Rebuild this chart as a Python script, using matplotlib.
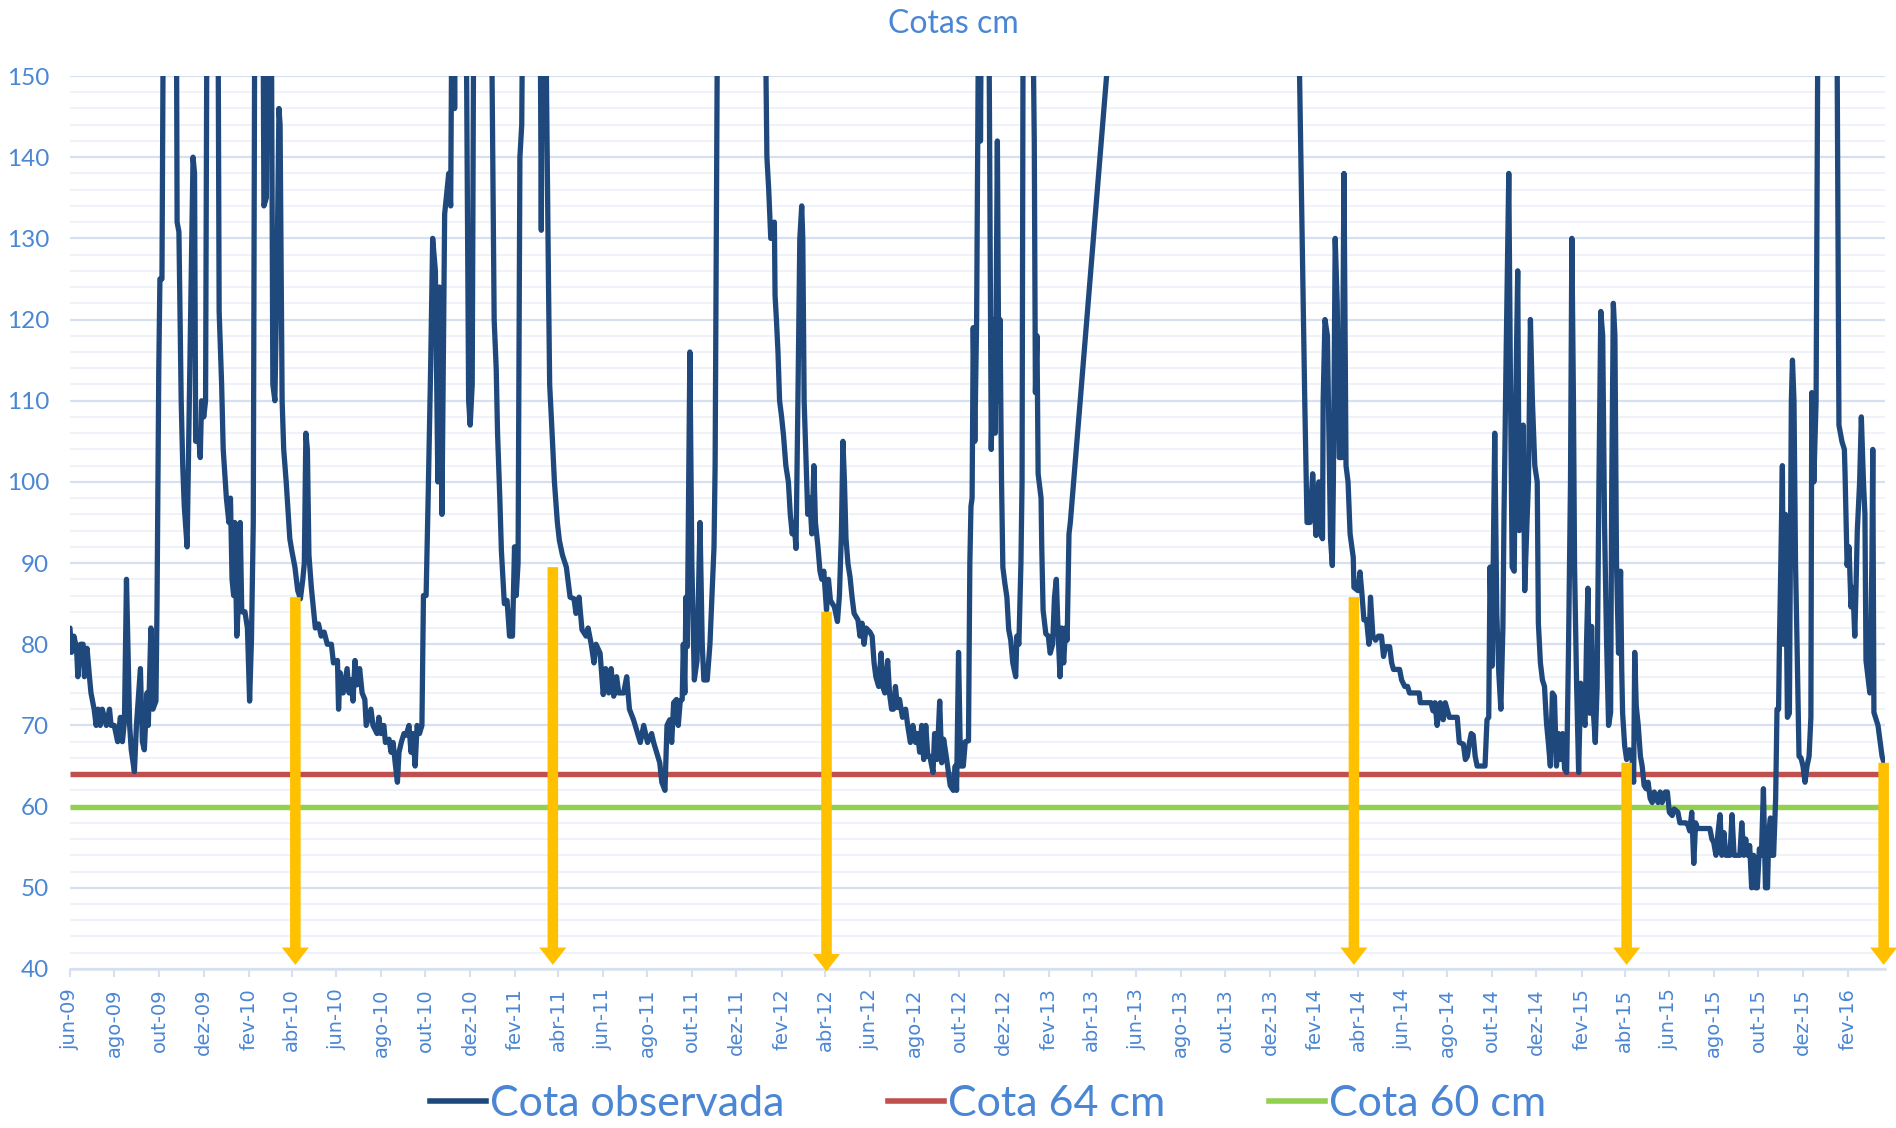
import numpy as np
import pandas as pd
import matplotlib
matplotlib.use("Agg")
import matplotlib.pyplot as plt
from matplotlib.patches import FancyArrowPatch, ArrowStyle
from matplotlib.lines import Line2D

# ---------------- data ----------------
# time axis: months elapsed since 1 June 2009 (jun-09)
t_obs = [0.00, 0.07, 0.18, 0.30, 0.36, 0.48, 0.60, 0.66, 0.78, 0.89, 0.96, 1.10, 1.19, 1.28, 1.37, 1.46, 1.64, 1.78, 1.85, 1.99,
         2.14, 2.26, 2.35, 2.44, 2.53, 2.67, 2.74, 2.88, 2.97, 3.15, 3.24, 3.33, 3.45, 3.51, 3.63, 3.72, 3.86, 3.91, 3.99, 4.04,
         4.13, 4.22, 4.75, 4.80, 4.88, 4.98, 5.05, 5.12, 5.20, 5.25, 5.52, 5.59, 5.64, 5.77, 5.85, 5.91, 6.01, 6.09, 6.17, 6.62,
         6.69, 6.80, 6.87, 6.94, 7.01, 7.12, 7.19, 7.26, 7.33, 7.38, 7.47, 7.54, 7.62, 7.69, 7.83, 7.94, 8.04, 8.13, 8.22, 8.31,
         8.67, 8.74, 8.86, 8.95, 9.07, 9.16, 9.25, 9.34, 9.43, 9.48, 9.57, 9.64, 9.75, 9.82, 9.91, 10.00, 10.14, 10.27, 10.39, 10.50,
         10.57, 10.64, 10.71, 10.78, 10.89, 11.07, 11.21, 11.33, 11.46, 11.60, 11.78, 11.87, 12.05, 12.10, 12.17, 12.31, 12.49, 12.58, 12.67, 12.76,
         12.85, 12.94, 13.06, 13.17, 13.29, 13.35, 13.56, 13.65, 13.83, 13.91, 14.00, 14.13, 14.20, 14.36, 14.45, 14.54, 14.63, 14.73, 14.80, 14.91,
         15.02, 15.12, 15.25, 15.34, 15.43, 15.53, 15.62, 15.73, 15.84, 15.91, 16.03, 16.12, 16.23, 16.32, 16.44, 16.55, 16.62, 16.73, 16.85, 17.03,
         17.12, 17.21, 17.30, 17.38, 17.79, 17.94, 18.01, 18.10, 18.19, 18.90, 19.07, 19.16, 19.22, 19.32, 19.39, 19.52, 19.64, 19.75, 19.88, 19.97,
         20.05, 20.14, 20.23, 20.32, 20.41, 21.17, 21.25, 21.33, 21.42, 21.57, 21.62, 21.71, 21.83, 21.96, 22.05, 22.19, 22.37, 22.54, 22.72, 22.81,
         22.95, 23.08, 23.26, 23.35, 23.49, 23.61, 23.70, 23.88, 24.02, 24.13, 24.27, 24.38, 24.50, 24.63, 24.73, 24.95, 25.09, 25.21, 25.39, 25.57,
         25.69, 25.84, 26.01, 26.19, 26.28, 26.41, 26.55, 26.64, 26.78, 26.87, 26.99, 27.08, 27.17, 27.30, 27.38, 27.47, 27.56, 27.61, 27.68, 27.73,
         27.79, 27.91, 28.00, 28.11, 28.23, 28.36, 28.46, 28.53, 28.68, 28.80, 28.89, 28.98, 29.03, 29.17, 31.20, 31.25, 31.35, 31.43, 31.52, 31.63,
         31.68, 31.71, 31.77, 31.84, 31.91, 32.00, 32.09, 32.20, 32.32, 32.41, 32.50, 32.59, 32.68, 32.77, 32.86, 32.95, 33.00, 33.06, 33.13, 33.22,
         33.31, 33.40, 33.49, 33.56, 33.67, 33.76, 33.84, 33.93, 34.05, 34.14, 34.23, 34.41, 34.55, 34.64, 34.73, 34.80, 34.87, 34.94, 35.03, 35.12,
         35.21, 35.30, 35.47, 35.56, 35.65, 35.74, 35.83, 36.00, 36.10, 36.19, 36.27, 36.40, 36.51, 36.58, 36.68, 36.81, 36.90, 36.99, 37.07, 37.16,
         37.25, 37.34, 37.47, 37.61, 37.70, 37.82, 37.93, 38.05, 38.14, 38.23, 38.32, 38.41, 38.50, 38.59, 38.68, 38.82, 38.89, 39.00, 39.12, 39.21,
         39.30, 39.39, 39.48, 39.60, 39.74, 39.83, 39.89, 39.98, 40.07, 40.19, 40.28, 40.42, 40.48, 40.53, 40.58, 40.63, 40.70, 40.78, 40.83, 40.90,
         40.95, 41.02, 41.30, 41.44, 41.55, 41.62, 41.72, 41.79, 41.84, 41.91, 41.97, 42.06, 42.15, 42.23, 42.32, 42.41, 42.54, 42.59, 42.68, 42.77,
         42.82, 42.88, 43.23, 43.36, 43.41, 43.48, 43.53, 43.66, 43.69, 43.75, 43.87, 43.98, 44.07, 44.19, 44.28, 44.37, 44.46, 44.55, 44.64, 44.73,
         44.82, 44.90, 44.99, 45.05, 47.50, 55.15, 55.54, 55.64, 55.77, 55.89, 55.96, 56.04, 56.18, 56.25, 56.36, 56.39, 56.48, 56.60, 56.75, 56.84,
         56.89, 56.98, 57.07, 57.16, 57.28, 57.37, 57.46, 57.55, 57.64, 57.78, 57.81, 57.99, 58.08, 58.17, 58.26, 58.38, 58.49, 58.56, 58.67, 58.79,
         58.92, 59.06, 59.15, 59.24, 59.42, 59.51, 59.59, 59.86, 59.95, 60.09, 60.22, 60.31, 60.75, 60.80, 61.28, 61.37, 61.46, 61.55, 61.69, 61.82,
         61.91, 62.09, 62.44, 62.53, 62.71, 62.80, 62.89, 62.98, 63.06, 63.15, 63.24, 63.33, 63.69, 63.78, 63.86, 63.92, 64.01, 64.13, 64.22, 64.31,
         64.40, 64.49, 64.54, 64.63, 64.75, 64.83, 64.90, 64.99, 65.06, 65.15, 65.22, 65.33, 65.40, 65.47, 65.56, 65.64, 65.73, 65.82, 65.93, 66.04,
         66.09, 66.18, 66.27, 66.36, 66.45, 66.53, 66.62, 66.71, 66.80, 66.89, 66.98, 67.07, 67.16, 67.25, 67.34, 67.42, 67.51, 67.57, 67.64, 67.69,
         67.78, 67.87, 67.96, 68.05, 68.17, 68.24, 68.31, 68.40, 68.49, 68.58, 68.67, 68.76, 68.85, 68.94, 69.03, 69.11, 69.20, 69.29, 69.38, 69.43,
         69.50, 69.57, 69.64, 69.73, 69.82, 69.87, 69.91, 70.00, 70.09, 70.22, 70.33, 70.41, 70.46, 70.53, 70.62, 70.72, 70.80, 70.89, 70.98, 71.07,
         71.16, 71.25, 71.34, 71.43, 71.51, 71.60, 71.69, 71.83, 71.92, 72.01, 72.14, 72.23, 72.40, 72.49, 72.76, 72.85, 72.94, 73.03, 73.12, 73.20,
         73.29, 73.83, 73.92, 74.00, 74.10, 74.19, 74.28, 74.36, 74.45, 74.54, 74.72, 74.81, 74.90, 75.16, 75.25, 75.34, 75.43, 75.52, 75.61, 75.70,
         75.79, 75.88, 75.96, 76.05, 76.14, 76.23, 76.32, 76.41, 76.47, 76.54, 76.59, 76.68, 76.77, 76.83, 76.90, 76.94, 77.00, 77.07, 77.12, 77.21,
         77.30, 77.39, 77.48, 77.53, 77.60, 77.67, 77.74, 77.83, 77.92, 78.01, 78.10, 78.19, 78.28, 78.36, 78.40, 78.49, 78.59, 78.70, 79.48, 79.60,
         79.73, 79.84, 79.87, 79.96, 80.05, 80.14, 80.23, 80.32, 80.37, 80.44, 80.55, 80.63, 80.73, 80.80, 80.85, 80.94, 81.03, 81.12, 81.16, 81.21,
         81.30, 81.39, 81.47, 81.57, 81.66]

cota_obs = [82, 79, 81, 79.5, 76, 80, 80, 76, 79.5, 76, 74, 72, 70, 72, 70, 72, 70, 72, 70, 70,
            68, 71, 68, 70.5, 88, 70, 67, 64.3, 70, 77, 68, 67, 74, 70, 82, 72, 73, 85, 114, 125,
            125, 175, 175, 132, 130.8, 110, 102, 97, 94, 92, 140, 138, 105, 106, 103, 110, 108, 110, 175, 175,
            121, 112, 104, 101, 98, 95, 98, 88, 86, 95, 81, 85, 95, 84, 84, 82, 73, 80.5, 95, 175,
            175, 134, 135, 175, 175, 112, 110, 125, 146, 144, 110, 104, 100, 97, 93, 91.5, 89.5, 86.6, 85.6, 88,
            90, 106, 104, 91, 87, 82, 82.5, 81, 81.5, 80, 80, 77.7, 78, 72, 76.5, 74, 77, 74, 75.6, 73,
            78, 75, 77, 74, 73.2, 70, 72, 70, 69, 71, 69, 70, 67.9, 68.3, 66.7, 67.9, 65.4, 63, 66.7, 68,
            69, 68.8, 70, 66.7, 69, 65, 70, 69, 70, 86, 86, 98, 114, 130, 126, 100, 124, 96, 133, 138,
            134, 175, 146, 175, 175, 110, 107, 112, 175, 175, 120, 114, 106, 98, 91.5, 85, 85.4, 81, 81, 92,
            86, 90, 140, 144, 175, 175, 131, 175, 165, 124, 112, 107, 100, 95, 92.8, 91, 89.5, 85.8, 85.6, 83.8,
            85.8, 81.8, 81, 82, 80, 77.7, 80, 78.9, 73.8, 77, 74, 77, 73.6, 76, 74, 74, 76, 72, 70.7, 69,
            67.9, 70, 67.9, 69, 67.9, 66.7, 65.4, 63, 62, 70, 70.7, 67.9, 72.8, 73.2, 70, 73, 73.2, 80, 74, 85.8,
            79.7, 116, 90, 75.6, 78, 95, 80, 75.6, 75.6, 80, 86, 92, 102, 175, 175, 165, 140, 136, 130, 130,
            132, 123, 120, 116, 110, 108, 105.7, 102, 100, 96, 93.6, 95, 91.8, 110, 130, 134, 130, 110, 104, 96,
            98, 93.6, 102, 95, 92, 89, 88, 89, 84.2, 88, 85.4, 84.6, 82.8, 86, 93.6, 105, 100, 93, 89.9, 88.3,
            85.8, 83.8, 83, 81, 82.6, 80, 82, 81.5, 81, 77.7, 76, 74.8, 78.9, 74.8, 74, 78, 73.8, 72, 72, 74.8,
            72.2, 73.2, 71, 72, 70, 67.9, 70, 67.9, 69, 66.7, 70, 65.8, 70, 66.2, 66.2, 64.2, 69, 65.8, 73, 65.4,
            68.3, 66.7, 65, 62.6, 62, 65, 62, 79, 65, 65, 68, 68.1, 90, 97, 98, 119, 105, 120, 142, 175,
            142, 175, 175, 104, 120, 106, 142, 110, 120, 100, 89.5, 87.5, 85.8, 81.8, 80.5, 77.7, 76, 81, 80, 90,
            100, 175, 175, 142, 111, 118, 101, 98, 92, 84.2, 81.3, 81, 78.9, 80, 85.8, 88, 81.3, 76, 82, 77.7,
            82, 80.5, 93.6, 95, 178, 178, 110, 95, 95, 101, 97.5, 93.4, 100, 93.6, 93, 110, 120, 118, 93, 89.7,
            100, 130, 122, 103, 103, 138, 102, 100, 93.6, 90.7, 87, 86.6, 88.9, 86.2, 83, 83, 80, 85.8, 81, 80.5,
            81, 81, 78.5, 79.7, 79.7, 77.7, 76.9, 76.9, 75.6, 74.8, 74.8, 74, 74, 72.8, 72.8, 71.8, 72.8, 70, 72.8, 70.7,
            72.8, 71, 71, 67.9, 67.7, 65.8, 66.2, 67.9, 69, 68.8, 66.2, 65, 65, 70.7, 71, 89.5, 77.3, 106, 83.8, 76.4,
            72, 82, 96, 115, 138, 110, 89.5, 89, 110, 126, 94, 97, 107, 86.6, 94, 100, 120, 110, 102, 100,
            82.6, 77.7, 75.6, 74.8, 70.3, 67.9, 65, 74, 73.6, 65, 69, 65.8, 69, 64.6, 64.2, 78.9, 100, 130, 110, 89.5,
            75, 64.2, 75.2, 71.6, 70, 80, 86.9, 71.5, 82.2, 71.5, 67.9, 74.8, 100, 121, 118, 95, 80.5, 70, 71.6, 100,
            122, 118, 90, 78.9, 89, 77, 71.5, 67.5, 65.8, 67, 66.2, 63, 79, 72.4, 70, 66.2, 65, 62.6, 62.2, 63,
            61, 60.5, 61.8, 61, 60.5, 61.8, 60.5, 61.8, 61.8, 59.3, 58.9, 59.7, 59.3, 58, 58, 57.8, 57, 59.3, 53, 58,
            57.3, 57.3, 56, 55.6, 54, 56.8, 59, 54, 56.8, 54, 54, 59, 54, 54, 58, 54, 56, 54, 55.2, 50,
            54, 50, 50, 54.8, 54, 62.2, 50, 50, 57, 58.6, 54, 54, 61, 72, 72, 80.5, 90, 102, 80, 96,
            71, 71.5, 110, 115, 110, 90, 80, 66.2, 66, 65, 63, 65, 66.2, 71, 111, 100, 110, 175, 175, 107,
            105, 104, 101, 89.7, 92, 84.6, 87, 81, 86, 94, 100, 108, 100, 96, 78, 76, 74, 90, 104, 71.6,
            70.8, 70, 68.3, 66.2, 65.4]

t_limits = [0.0, 81.70]          # axis span, months since jun-09
ref_64 = [64, 64]                 # "Cota 64 cm"
ref_60 = [60, 60]                 # "Cota 60 cm"

arrow_t = [10.16, 21.76, 34.05, 57.81, 70.09, 81.64]
arrow_top = [85.8, 89.5, 84.0, 85.8, 65.4, 65.4]
arrow_tip = [40.5, 40.5, 39.7, 40.5, 40.5, 40.5]

month_pt = ['jan', 'fev', 'mar', 'abr', 'mai', 'jun', 'jul', 'ago', 'set', 'out', 'nov', 'dez']
series_labels = ['Cota observada', 'Cota 64 cm', 'Cota 60 cm']
title_text = 'Cotas cm'

# ---------------- helpers ----------------
BASE = pd.Timestamp('2009-06-01')


def m2d(m):
    whole = int(np.floor(m))
    frac = m - whole
    start = BASE + pd.DateOffset(months=whole)
    nxt = BASE + pd.DateOffset(months=whole + 1)
    return start + (nxt - start) * frac


dates_obs = [m2d(m) for m in t_obs]
x_lim = [m2d(m) for m in t_limits]

# ---------------- style ----------------
BLUE_TXT = '#4A86D4'
C_OBS = '#1F497D'
C_64 = '#C0504D'
C_60 = '#92D050'
C_ARROW = '#FFC000'
GRID_MAJ = '#D6E0F0'
GRID_MIN = '#EEF2F9'

fig = plt.figure(figsize=(18.96, 11.28), dpi=100)
ax = fig.add_axes([0.0369, 0.1410, 0.9573, 0.7916])

ax.plot(x_lim, ref_64, color=C_64, lw=3.9, zorder=3, solid_capstyle='butt')
ax.plot(x_lim, ref_60, color=C_60, lw=3.9, zorder=3, solid_capstyle='butt')
ax.plot(dates_obs, cota_obs, color=C_OBS, lw=3.8, zorder=4,
        solid_joinstyle='round', solid_capstyle='round')

ax.set_xlim(x_lim)
ax.set_ylim(40, 150)

# y grid
ax.set_yticks(np.arange(40, 151, 10))
ax.set_yticks(np.arange(40, 151, 2), minor=True)
ax.grid(which='minor', axis='y', color=GRID_MIN, lw=1.3, zorder=0)
ax.grid(which='major', axis='y', color=GRID_MAJ, lw=1.6, zorder=0)
ax.set_axisbelow(True)
ax.tick_params(axis='y', which='both', length=0, pad=15, labelsize=17.5,
               labelcolor=BLUE_TXT)
for lab in ax.get_yticklabels():
    lab.set_family('Lato')

# x ticks every two months
tick_dates = []
tick_labels = []
for k in range(0, 81, 2):
    d = BASE + pd.DateOffset(months=k)
    tick_dates.append(d)
    tick_labels.append(f"{month_pt[d.month - 1]}-{d.year % 100:02d}")
ax.set_xticks(tick_dates)
ax.set_xticklabels(tick_labels, rotation=90, fontsize=14, color=BLUE_TXT,
                   family='DejaVu Sans')
ax.tick_params(axis='x', which='major', length=6, width=1.5, color=GRID_MAJ, pad=8)
ax.tick_params(axis='x', which='minor', length=0)

for s in ['top', 'right', 'left']:
    ax.spines[s].set_visible(False)
ax.spines['bottom'].set_color(GRID_MAJ)
ax.spines['bottom'].set_linewidth(1.8)

# arrows
for t, top, tip in zip(arrow_t, arrow_top, arrow_tip):
    d = m2d(t)
    arr = FancyArrowPatch((d, top), (d, tip),
                          arrowstyle=ArrowStyle.Simple(head_length=12.5, head_width=19.5, tail_width=7.6),
                          mutation_scale=1, color=C_ARROW, shrinkA=0, shrinkB=0,
                          zorder=6, clip_on=False, lw=0)
    ax.add_patch(arr)

# title
fig.text(0.503, 0.979, title_text, ha='center', va='center', fontsize=23,
         color=BLUE_TXT, family='Lato')

# legend
handles = [Line2D([], [], color=C_OBS, lw=4),
           Line2D([], [], color=C_64, lw=4),
           Line2D([], [], color=C_60, lw=4)]
leg = fig.legend(handles, series_labels, loc='center', bbox_to_anchor=(0.521, 0.021),
                 ncol=3, frameon=False, handlelength=1.3,
                 handletextpad=0.1, columnspacing=2.4, labelcolor=BLUE_TXT,
                 prop={'family': 'Lato', 'size': 31}, borderpad=0)

fig.savefig('out.png', dpi=100)
